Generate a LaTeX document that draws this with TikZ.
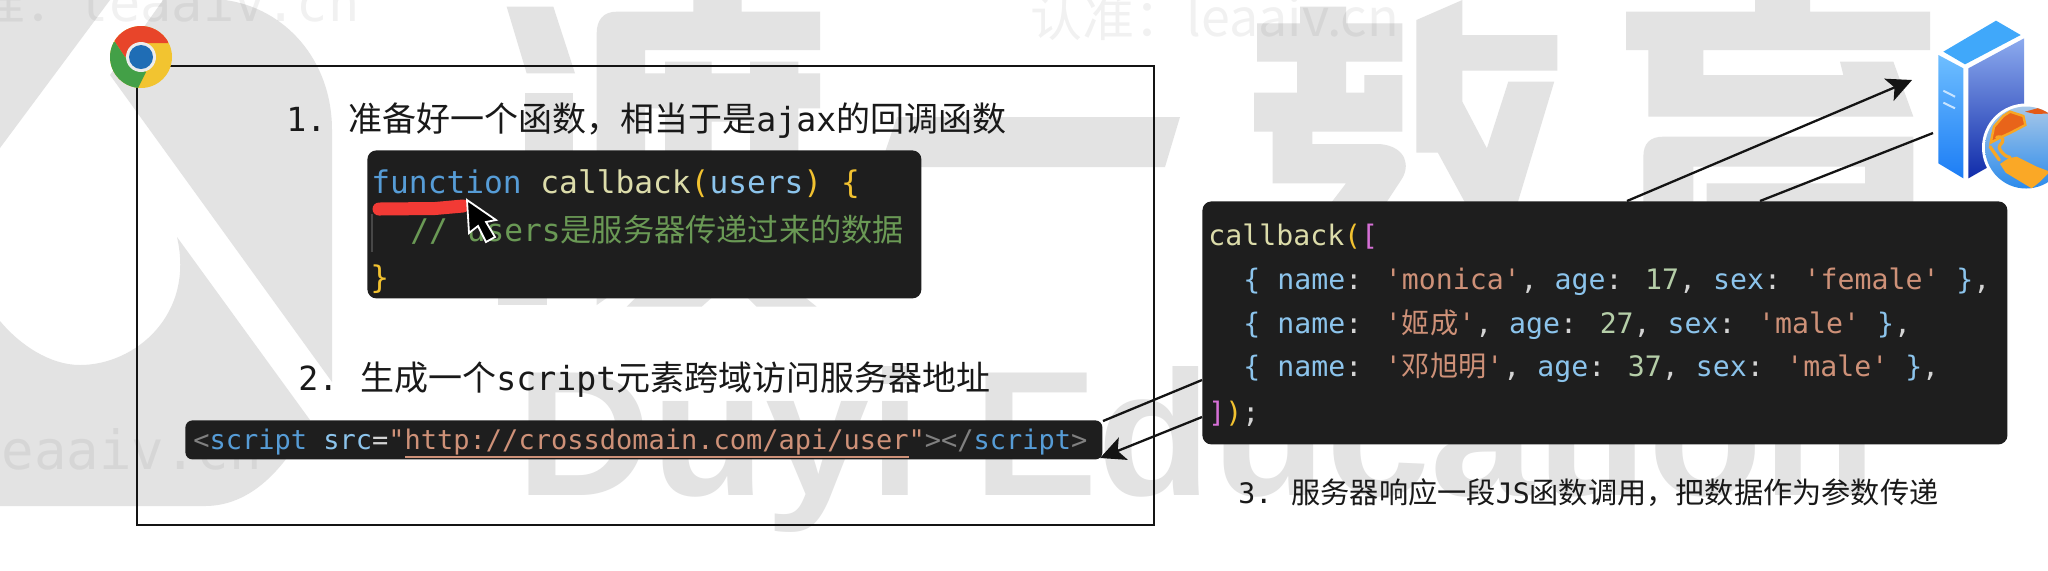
\documentclass[tikz,border=0pt]{standalone}
\usepackage{fontspec}
\usetikzlibrary{arrows.meta}
\newfontfamily\cjk{Noto Sans CJK SC}
\newfontfamily\monof{DejaVu Sans Mono}
\newfontfamily\wmsans{Liberation Sans}
\definecolor{wm}{HTML}{E3E3E3}
\definecolor{codebg}{HTML}{1E1E1E}
\definecolor{ckw}{HTML}{569CD6}
\definecolor{cfn}{HTML}{DCDCAA}
\definecolor{cpar}{HTML}{F2C230}
\definecolor{cvar}{HTML}{8CC4EC}
\definecolor{ccom}{HTML}{6A9955}
\definecolor{cstr}{HTML}{CE9178}
\definecolor{cnum}{HTML}{B5CEA8}
\definecolor{cmag}{HTML}{D670D6}
\definecolor{cpun}{HTML}{D4D4D4}
\definecolor{ctag}{HTML}{808080}
\newcommand\cs[2]{\textcolor{#1}{#2}}
\newcommand\szcode{\monof\fontsize{14.1}{16}\selectfont}
\newcommand\jsline[3]{\cs{cvar}{\{} \cs{cvar}{name}\cs{cpun}{:} \cs{cstr}{'{#1}'}\cs{cpun}{,} \cs{cvar}{age}\cs{cpun}{:} \cs{cnum}{#2}\cs{cpun}{,} \cs{cvar}{sex}\cs{cpun}{:} \cs{cstr}{'#3'} \cs{cvar}{\}}\cs{cpun}{,}}
\tikzset{
  wmfill/.style={fill=wm,draw=none},
  ghost/.style={inner sep=0pt,text=black,text opacity=.055},
  codebox/.style={fill=codebg,draw=none,rounded corners=4.5pt,inner sep=0pt,anchor=north west},
  codetext/.style={inner sep=0pt,anchor=base west,font=\szcode},
  lab/.style={inner sep=0pt,anchor=base west,text=black!90},
  conn/.style={draw=black!92,line width=1.15pt},
  connarrow/.style={conn,-{Stealth[length=12.5pt,width=12pt,inset=3pt]}}
}
\begin{document}
\begin{tikzpicture}[x=0.5pt,y=-0.5pt]
\clip (0,0) rectangle (2048,570);
\fill[white] (0,0) rectangle (2048,570);
% ---------- watermark logo
\fill[wmfill] (0,0) -- (110,0) -- (0,148) -- cycle;
\fill[wmfill] (163,0) -- (225,0) .. controls (285,8) and (332,60) .. (332,130) -- (332,382) -- (110,75) -- cycle;
\fill[wmfill] (0,321) .. controls (20,345) and (50,365) .. (80,365) .. controls (135,365) and (195,315) .. (177,237) -- (310,420) .. controls (285,470) and (250,506) .. (205,506) -- (0,506) -- cycle;
% ---------- watermark: du
\begin{scope}[shift={(480,0)},x=0.16667pt,y=-0.16667pt]
\fill[wmfill] (80,20) -- (220,20) -- (285,220) -- (140,220) -- cycle;
\fill[wmfill] (135,280) -- (280,280) -- (280,460) -- (135,460) -- cycle;
\fill[wmfill] (350,100) .. controls (350,60) and (370,35) .. (410,35) -- (640,35) -- (640,0) -- (785,0) -- (785,35) -- (1020,35) -- (1020,150) -- (495,150) -- (495,460) -- (350,460) -- cycle;
\fill[wmfill] (555,185) -- (695,185) -- (695,220) -- (810,220) -- (810,185) -- (955,185) -- (955,220) -- (1020,220) -- (1020,325) -- (955,325) -- (955,460) -- (810,460) -- (810,365) -- (695,365) -- (695,460) -- (555,460) -- (555,325) -- (495,325) -- (495,220) -- (555,220) -- cycle;
\fill[wmfill] (55,880) -- (200,880) -- (200,915) -- (55,915) -- cycle;
\fill[wmfill] (350,880) -- (400,880) -- (350,915) -- cycle;
\fill[wmfill] (480,880) -- (710,880) -- (665,920) -- (440,920) -- cycle;
\fill[wmfill] (790,880) -- (960,880) -- (1010,920) -- (830,920) -- cycle;
\end{scope}
% watermark: yi
\fill[wmfill] (897,117) -- (1180,117) -- (1165,167) -- (880,167) -- cycle;
% watermark: jiao
\begin{scope}[shift={(1000,0)},x=0.30620pt,y=-0.16667pt]
\fill[wmfill] (490,20) -- (565,20) -- (565,70) -- (657,70) -- (657,185) -- (565,185) -- (565,278) -- (595,278) -- (595,225) -- (657,225) -- (657,395) -- (510,395) -- (510,432) -- (620,432) .. controls (665,440) and (670,500) .. (655,540) -- (630,610) -- (540,610) -- (565,550) -- (445,550) -- (445,395) -- (415,395) -- (415,278) -- (485,278) -- (485,185) -- (420,185) -- (420,70) -- (490,70) -- cycle;
\fill[wmfill] (680,60) -- (755,0) -- (755,105) -- (910,105) -- (910,212) -- (755,212) -- (755,305) -- (795,445) -- (830,245) -- (905,245) -- (845,610) -- (760,610) -- (715,458) -- (680,458) -- cycle;
\end{scope}
% watermark: yu
\begin{scope}[shift={(1600,0)},x=0.16667pt,y=-0.16667pt]
\fill[wmfill] (465,0) -- (630,0) -- (630,35) -- (990,35) -- (990,150) -- (310,150) -- (310,225) -- (730,225) -- (720,185) -- (880,185) -- (940,350) -- (145,350) -- (145,150) -- (78,150) -- (78,35) -- (465,35) -- cycle;
\fill[wmfill,even odd rule] (130,620) -- (130,470) .. controls (130,430) and (150,410) .. (190,410) -- (940,410) -- (940,620) -- cycle
  (280,620) -- (280,500) -- (795,500) -- (795,550) -- (320,550) -- (320,620) -- cycle;
\end{scope}
\node[anchor=base west,inner sep=0pt,text=wm] (wmtext) at (516,495) {\scalebox{1.05}[1]{\wmsans\bfseries\fontsize{89}{89}\selectfont Duyi Education}};
% ghost site marks
\node[ghost,anchor=base east] (ghostA) at (360,21) {\fontsize{26}{26}\selectfont{\cjk 认准：}{\monof leaaiv.cn}};
\node[ghost,anchor=base west] (ghostB) at (1030,36) {\cjk\fontsize{26}{26}\selectfont 认准：leaaiv.cn};
\node[ghost,anchor=base east] (ghostC) at (262,469) {\monof\fontsize{27}{27}\selectfont leaaiv.cn};
% ---------- browser frame
\node[draw=black!92,line width=1.2pt,inner sep=0pt,minimum width=508.5pt,minimum height=229.5pt,anchor=north west] (frame) at (136,65) {};
% ---------- chrome icon
\begin{scope}
\clip (141,57) circle [radius=31];
\fill[fill={rgb,255:red,242;green,196;blue,48}] (100,15) rectangle (180,95);
\fill[fill={rgb,255:red,232;green,69;blue,42}] (115,42) -- (125,57) -- (141,43) -- (168,43) -- (176,18) -- (110,18) -- cycle;
\fill[fill={rgb,255:red,67;green,160;blue,71}] (115,42) -- (125,57) -- (146,72) -- (137,90) -- (105,90) -- (105,42) -- cycle;
\end{scope}
\node[circle,fill=white!85!gray,inner sep=0pt,minimum size=15pt] (chromeRing) at (141,57) {};
\node[circle,fill={rgb,255:red,31;green,109;blue,181},inner sep=0pt,minimum size=12pt] (chromeEye) at (141,57) {};
% ---------- server icon
\begin{scope}[shift={(1600,0)},x=0.16667pt,y=-0.16667pt]
\fill[fill={rgb,255:red,64;green,168;blue,250}] (1030,155) -- (1188,62) -- (1262,105) -- (1095,193) -- cycle;
\shade[top color={rgb,255:red,110;green,190;blue,255},bottom color={rgb,255:red,28;green,125;blue,245}] (1015,165) -- (1090,205) -- (1090,535) -- (1015,490) -- cycle;
\shade[top color={rgb,255:red,140;green,170;blue,238},bottom color={rgb,255:red,16;green,44;blue,170}] (1105,205) -- (1272,115) -- (1272,440) -- (1105,535) -- cycle;
\draw[line width=1pt,color={rgb,255:red,200;green,228;blue,255}] (1030,272) -- (1065,290) (1030,308) -- (1065,325);
\end{scope}
% globe
\begin{scope}
\fill[white] (2026,147.5) circle [radius=44];
\clip (2026,147.5) circle [radius=41];
\shade[top color={rgb,255:red,176;green,204;blue,232},bottom color={rgb,255:red,34;green,134;blue,235}] (1980,100) rectangle (2075,195);
\begin{scope}[shift={(1840,100)},x=0.16667pt,y=-0.16667pt]
\fill[fill={rgb,255:red,232;green,100;blue,26},draw={rgb,255:red,248;green,166;blue,36},line width=1.2pt] (462,80) -- (490,48) -- (510,35) -- (550,48) -- (556,75) -- (512,98) -- (482,112) -- (452,128) -- cycle;
\fill[fill={rgb,255:red,228;green,90;blue,22}] (555,35) -- (610,20) -- (640,20) -- (640,40) -- (585,42) -- cycle;
\draw[color={rgb,255:red,248;green,166;blue,36},line width=1.6pt,line cap=round] (470,112) .. controls (490,105) and (495,125) .. (480,135) .. controls (470,140) and (490,170) .. (510,172);
\draw[color={rgb,255:red,248;green,166;blue,36},line width=1.6pt,line cap=round] (450,140) -- (478,180);
\fill[fill={rgb,255:red,250;green,168;blue,38}] (480,192) -- (505,175) -- (530,170) -- (590,200) -- (630,215) -- (600,245) -- (575,265) -- (530,238) -- (497,218) -- cycle;
\end{scope}
\end{scope}
% ---------- labels
\node[lab] (labelOne) at (286,131) {\cjk\fontsize{17}{17}\selectfont\makebox[31pt][l]{\monof\fontsize{16.6}{17}\selectfont 1.}准备好一个函数，相当于是{\monof\fontsize{16.6}{17}\selectfont ajax}的回调函数};
\node[lab] (labelTwo) at (298,390) {\cjk\fontsize{17}{17}\selectfont\makebox[31pt][l]{\monof\fontsize{16.6}{17}\selectfont 2.}生成一个{\monof\fontsize{16.6}{17}\selectfont script}元素跨域访问服务器地址};
\node[lab] (labelThree) at (1238,503) {\cjk\fontsize{14.6}{15}\selectfont\makebox[26.5pt][l]{\monof\fontsize{14.1}{15}\selectfont 3.}服务器响应一段{\monof\fontsize{14.1}{15}\selectfont JS}函数调用，把数据作为参数传递};
% ---------- code 1
\node[codebox,minimum width=277pt,minimum height=74pt] (codeOne) at (367,150) {};
\draw[color=black!72,line width=.6pt] (372,214) -- (372,252);
\node[codetext,font=\monof\fontsize{15.6}{17}\selectfont] (c1a) at (371,193) {\cs{ckw}{function} \cs{cfn}{callback}\cs{cpar}{(}\cs{cvar}{users}\cs{cpar}{)} \cs{cpar}{\{}};
\node[codetext,font=\monof\fontsize{15.6}{17}\selectfont] (c1b) at (410,241) {\cs{ccom}{// users{\cjk 是服务器传递过来的数据}}};
\node[codetext,font=\monof\fontsize{15.6}{17}\selectfont] (c1c) at (370,288) {\cs{cpar}{\}}};
\draw[line width=6.5pt,line cap=round,color={rgb,255:red,242;green,58;blue,53}] (379,209) -- (435,208.5) -- (463,206);
\filldraw[fill=black,draw=white,line width=.9pt,line join=miter] (467,200) -- (469,233) -- (478,226) -- (486,242) -- (495,237) -- (486,222) -- (496,220) -- cycle;
% ---------- code 2
\node[codebox,minimum width=458.5pt,minimum height=19.5pt,rounded corners=3.5pt] (codeTwo) at (185,420) {};
\node[codetext,font=\monof\fontsize{13.5}{15}\selectfont] (c2) at (193,449) {\cs{ctag}{<}\cs{ckw}{script} \cs{cvar}{src}\cs{cpun}{=}\cs{cstr}{"http://crossdomain.com/api/user"}\cs{ctag}{></}\cs{ckw}{script}\cs{ctag}{>}};
\draw[color=cstr,line width=1pt] (405,457) -- (909,457);
% ---------- code 3
\node[codebox,minimum width=402.5pt,minimum height=121.5pt] (codeThree) at (1202,201) {};
\node[codetext] (c3a) at (1208,245) {\cs{cfn}{callback}\cs{cpar}{(}\cs{cmag}{[}};
\node[codetext] (c3b) at (1243,289) {\jsline{monica}{17}{female}};
\node[codetext] (c3c) at (1243,333) {\jsline{{\cjk 姬成}}{27}{male}};
\node[codetext] (c3d) at (1243,376) {\jsline{{\cjk 邓旭明}}{37}{male}};
\node[codetext] (c3e) at (1208,422) {\cs{cmag}{]}\cs{cpar}{)}\cs{cpun}{;}};
% ---------- connectors
\coordinate (srvIn) at (1912,80);
\coordinate (srvOut) at (1933,133);
\coordinate (upA) at (1627,201);
\coordinate (upB) at (1760,201);
\coordinate (leftA) at (1202,380);
\coordinate (leftB) at (1202,417);
\coordinate (tagA) at (1103,421);
\coordinate (tagB) at (1100,458);
\draw[connarrow] (upA) -- (srvIn);
\draw[conn] (srvOut) -- (upB);
\draw[conn] (leftA) -- (tagA);
\draw[connarrow] (leftB) -- (tagB);
\end{tikzpicture}
\end{document}
